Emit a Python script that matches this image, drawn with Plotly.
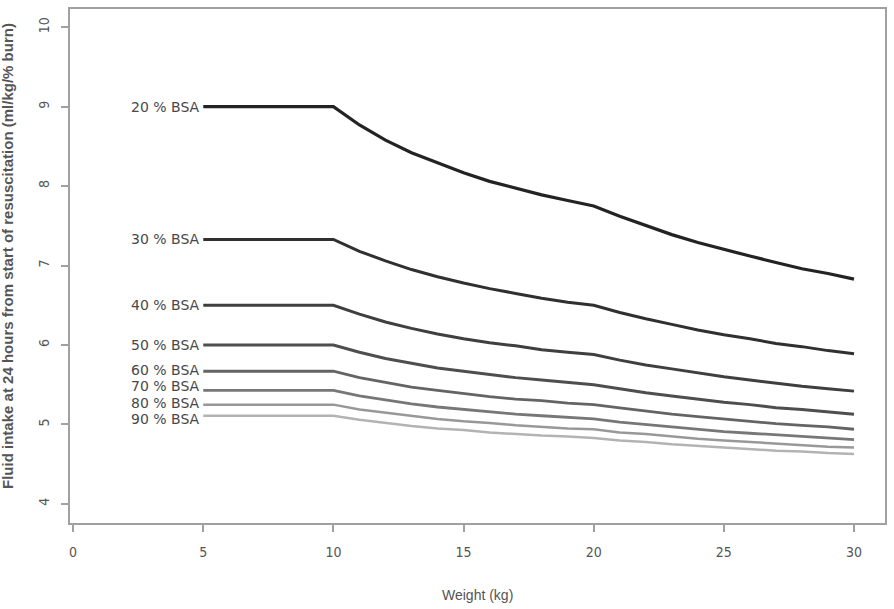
import plotly.graph_objects as go

weight = [5, 10, 11, 12, 13, 14, 15, 16, 17, 18, 19, 20, 21, 22, 23, 24, 25, 26, 27, 28, 29, 30]

bsa_labels = ["20 % BSA", "30 % BSA", "40 % BSA", "50 % BSA", "60 % BSA", "70 % BSA", "80 % BSA", "90 % BSA"]

bsa20 = [9.00, 9.00, 8.77, 8.58, 8.42, 8.29, 8.17, 8.06, 7.97, 7.89, 7.82, 7.75, 7.62, 7.50, 7.39, 7.29, 7.20, 7.12, 7.04, 6.96, 6.90, 6.83]
bsa30 = [7.33, 7.33, 7.18, 7.06, 6.95, 6.86, 6.78, 6.71, 6.65, 6.59, 6.54, 6.50, 6.41, 6.33, 6.26, 6.19, 6.13, 6.08, 6.02, 5.98, 5.93, 5.89]
bsa40 = [6.50, 6.50, 6.39, 6.29, 6.21, 6.14, 6.08, 6.03, 5.99, 5.94, 5.91, 5.88, 5.81, 5.75, 5.70, 5.65, 5.60, 5.56, 5.52, 5.48, 5.45, 5.42]
bsa50 = [6.00, 6.00, 5.91, 5.83, 5.77, 5.71, 5.67, 5.63, 5.59, 5.56, 5.53, 5.50, 5.45, 5.40, 5.36, 5.32, 5.28, 5.25, 5.21, 5.19, 5.16, 5.13]
bsa60 = [5.67, 5.67, 5.59, 5.53, 5.47, 5.43, 5.39, 5.35, 5.32, 5.30, 5.27, 5.25, 5.21, 5.17, 5.13, 5.10, 5.07, 5.04, 5.01, 4.99, 4.97, 4.94]
bsa70 = [5.43, 5.43, 5.36, 5.31, 5.26, 5.22, 5.19, 5.16, 5.13, 5.11, 5.09, 5.07, 5.03, 5.00, 4.97, 4.94, 4.91, 4.89, 4.87, 4.85, 4.83, 4.81]
bsa80 = [5.25, 5.25, 5.19, 5.15, 5.11, 5.07, 5.04, 5.02, 4.99, 4.97, 4.95, 4.94, 4.90, 4.88, 4.85, 4.82, 4.80, 4.78, 4.76, 4.74, 4.72, 4.71]
bsa90 = [5.11, 5.11, 5.06, 5.02, 4.98, 4.95, 4.93, 4.90, 4.88, 4.86, 4.85, 4.83, 4.80, 4.78, 4.75, 4.73, 4.71, 4.69, 4.67, 4.66, 4.64, 4.63]

x_ticks = [0, 5, 10, 15, 20, 25, 30]
y_ticks = [4, 5, 6, 7, 8, 9, 10]

series = [bsa20, bsa30, bsa40, bsa50, bsa60, bsa70, bsa80, bsa90]
colors = ["#232323", "#303030", "#3f3f3f", "#4e4e4e", "#646464", "#777777", "#989898", "#b3b3b3"]
widths = [3.2, 3, 3, 3, 2.8, 2.8, 2.5, 2.5]
label_shift = [0, 0, 0, 0, 1, 4, 2, -3]

fig = go.Figure()
for name, ys, c, w in zip(bsa_labels, series, colors, widths):
    fig.add_trace(go.Scatter(x=weight, y=ys, mode="lines", name=name,
                             line=dict(color=c, width=w), showlegend=False))

annotations = []
for name, ys, s in zip(bsa_labels, series, label_shift):
    annotations.append(dict(x=weight[0], y=ys[0], xref="x", yref="y", text=name,
                            showarrow=False, xanchor="right", yanchor="middle",
                            xshift=-1, yshift=s,
                            font=dict(family="DejaVu Sans, sans-serif", size=14, color="#484848")))

annotations.append(dict(x=0.5, y=-0.14, xref="paper", yref="paper", text="Weight (kg)",
                        showarrow=False, xanchor="center", yanchor="middle",
                        font=dict(family="Liberation Sans, Arial, sans-serif", size=14, color="#555555")))
annotations.append(dict(x=-0.077, y=0.52, xref="paper", yref="paper",
                        text="<b>Fluid intake at 24 hours from start of resuscitation (ml/kg/% burn)</b>",
                        showarrow=False, textangle=-90, xanchor="center", yanchor="middle",
                        font=dict(family="Liberation Sans, Arial, sans-serif", size=15, color="#555555")))

axis_common = dict(showgrid=False, zeroline=False, showline=True, mirror=True,
                   linecolor="#a0a0a0", linewidth=2, ticks="outside", ticklen=7,
                   tickcolor="#a0a0a0", tickwidth=1.5,
                   tickfont=dict(family="Liberation Sans Narrow, DejaVu Sans Condensed, sans-serif", size=14, color="#555555"))

fig.update_layout(
    width=894, height=609,
    margin=dict(l=70, r=7, t=8, b=86),
    paper_bgcolor="white", plot_bgcolor="white",
    xaxis=dict(range=[-0.12, 31.19], tickvals=x_ticks, ticklabelstandoff=8, **axis_common),
    yaxis=dict(range=[3.76, 10.23], tickvals=y_ticks, tickangle=-90, ticklabelstandoff=6, **axis_common),
    annotations=annotations,
)

fig.write_html("out.html", config={"displayModeBar": False},
               post_script="document.body.style.margin='0';")
